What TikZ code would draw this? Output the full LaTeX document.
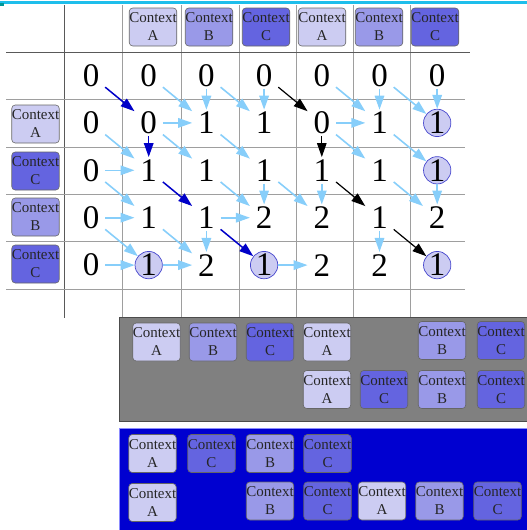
\documentclass[tikz,border=0pt]{standalone}
\usepackage{fontspec}
\setmainfont{Liberation Serif}
\usetikzlibrary{arrows.meta}
\definecolor{ctxA}{RGB}{204,204,242}
\definecolor{ctxB}{RGB}{153,153,232}
\definecolor{ctxC}{RGB}{100,100,224}
\definecolor{circfill}{RGB}{204,204,242}
\definecolor{circdraw}{RGB}{70,70,205}
\definecolor{lblue}{RGB}{135,206,250}
\definecolor{dblue}{RGB}{0,0,200}
\definecolor{topcyan}{RGB}{30,190,235}
\definecolor{panelgray}{RGB}{128,128,128}
\definecolor{panelblue}{RGB}{0,0,208}
\tikzset{
  ctx/.style={draw=black!60, line width=0.6pt, rounded corners=3.5pt, minimum width=47pt, minimum height=38pt, inner sep=0pt, align=center, font=\fontsize{15}{18}\selectfont, text=black!85},
  cA/.style={ctx, fill=ctxA},
  cB/.style={ctx, fill=ctxB},
  cC/.style={ctx, fill=ctxC},
  num/.style={inner sep=0pt, minimum width=28pt, minimum height=26pt, font=\fontsize{33}{33}\selectfont},
  hit/.style={circle, inner sep=0pt, minimum size=27pt, fill=circfill, draw=circdraw, line width=0.7pt, font=\fontsize{33}{33}\selectfont},
  grid/.style={draw=black!38, line width=1pt},
  gridd/.style={draw=black!65, line width=1pt},
  lb/.style={draw=lblue, line width=1.6pt, -{Triangle[length=14pt,width=9.5pt]}},
  db/.style={draw=dblue, line width=1.5pt, -{Triangle[length=14pt,width=9.5pt]}},
  bk/.style={draw=black, line width=1.2pt, -{Triangle[length=14pt,width=9.5pt]}},
}
\begin{document}
\begin{tikzpicture}[x=1pt,y=-1pt]
\useasboundingbox (0,0) rectangle (527,530);
% top cyan rule
\draw[topcyan, line width=2.5pt] (0,2.5) -- (527,2.5);
\fill[teal!80!cyan] (0,3) rectangle (4,6);
% grid
\foreach \gx in {122,181,239,296,353,410} \draw[grid] (\gx,5) -- (\gx,317);
\draw[gridd] (64,5) -- (64,318);
\foreach \gy in {99,147,194,241,289} \draw[grid] (6,\gy) -- (465,\gy);
\draw[gridd] (6,52) -- (470,52);
% header contexts
\node[cA] (h1) at (153,27) {Context\\A};
\node[cB] (h2) at (209,27) {Context\\B};
\node[cC] (h3) at (266,27) {Context\\C};
\node[cA] (h4) at (322,27) {Context\\A};
\node[cB] (h5) at (379,27) {Context\\B};
\node[cC] (h6) at (435,27) {Context\\C};
% row contexts
\node[cA] (l1) at (35.5,124) {Context\\A};
\node[cC] (l2) at (35.5,171) {Context\\C};
\node[cB] (l3) at (35.5,217) {Context\\B};
\node[cC] (l4) at (35.5,264) {Context\\C};
% numbers
\foreach \r/\c/\v/\s in {
 0/0/0/num,0/1/0/num,0/2/0/num,0/3/0/num,0/4/0/num,0/5/0/num,0/6/0/num,
 1/0/0/num,1/1/0/num,1/2/1/num,1/3/1/num,1/4/0/num,1/5/1/num,1/6/1/hit,
 2/0/0/num,2/1/1/num,2/2/1/num,2/3/1/num,2/4/1/num,2/5/1/num,2/6/1/hit,
 3/0/0/num,3/1/1/num,3/2/1/num,3/3/2/num,3/4/2/num,3/5/1/num,3/6/2/num,
 4/0/0/num,4/1/1/hit,4/2/2/num,4/3/1/hit,4/4/2/num,4/5/2/num,4/6/1/hit}
 \node[\s] (n\r\c) at ({91+57.7*\c},{75.5+47.4*\r}) {\v};
% light blue arrows
\foreach \a/\b in {01/12,02/12,11/12,02/13,03/13,14/15,04/15,05/15,05/16,06/16,
 10/21,20/21,11/22,12/23,14/25,15/26,
 20/31,30/31,22/33,23/33,32/33,23/34,24/34,25/36,26/36,
 30/41,40/41,31/42,32/42,41/42,43/44,35/45}
 \draw[lb] (n\a) -- (n\b);
% dark blue path
\foreach \a/\b in {00/11,11/21,21/32,32/43} \draw[db] (n\a) -- (n\b);
% black path
\foreach \a/\b in {03/14,14/24,24/35,35/46} \draw[bk] (n\a) -- (n\b);
% gray panel
\draw[fill=panelgray, draw=black!70, line width=0.8pt] (119,317) rectangle (530,421);
\node[cA] (g1) at (156.5,342) {Context\\A};
\node[cB] (g2) at (213,342) {Context\\B};
\node[cC] (g3) at (270,342) {Context\\C};
\node[cA] (g4) at (327,342) {Context\\A};
\node[cB] (g5) at (442,340.5) {Context\\B};
\node[cC] (g6) at (501,340.5) {Context\\C};
\node[cA] (g7) at (327,389.5) {Context\\A};
\node[cC] (g8) at (384,389.5) {Context\\C};
\node[cB] (g9) at (442,389.5) {Context\\B};
\node[cC] (g10) at (501,389.5) {Context\\C};
% blue panel
\draw[fill=panelblue, draw=blue!45!white, line width=0.8pt] (119,428) rectangle (530,533);
\node[cA] (b1) at (152.5,453.5) {Context\\A};
\node[cC] (b2) at (211.5,453.5) {Context\\C};
\node[cB] (b3) at (270,453.5) {Context\\B};
\node[cC] (b4) at (327.5,453.5) {Context\\C};
\node[cA] (b5) at (152.5,502.5) {Context\\A};
\node[cB] (b6) at (270,501) {Context\\B};
\node[cC] (b7) at (327.5,501) {Context\\C};
\node[cA] (b8) at (382,501) {Context\\A};
\node[cB] (b9) at (439.5,501) {Context\\B};
\node[cC] (b10) at (497.5,501) {Context\\C};
\end{tikzpicture}
\end{document}
